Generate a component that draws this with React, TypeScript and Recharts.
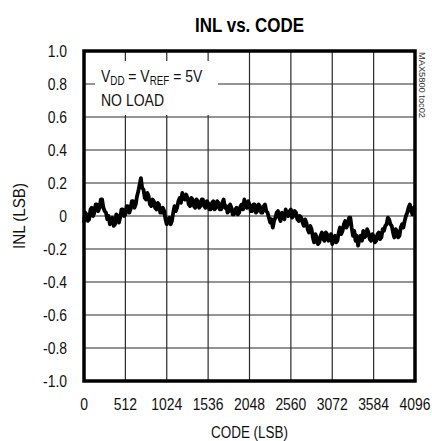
import React from "react";
import { LineChart, Line, XAxis, YAxis, CartesianGrid, ReferenceArea } from "recharts";

const codeStep = 16;
const inlValues: number[] = [
  -0.04, 0.02, 0.01, -0.03, -0.02, 0.04, 0.05, 0.0, 0.02, 0.07,
  0.07, 0.03, 0.05, 0.1, 0.1, 0.05, 0.03, 0.02, -0.02, 0.0,
  -0.05, -0.02, -0.01, -0.06, -0.05, 0.01, 0.0, -0.04, -0.01, 0.04,
  0.04, 0.0, 0.01, 0.06, 0.06, 0.02, 0.04, 0.09, 0.09, 0.05,
  0.07, 0.12, 0.15, 0.19, 0.23, 0.17, 0.16, 0.11, 0.1, 0.14,
  0.12, 0.07, 0.06, 0.1, 0.09, 0.05, 0.04, 0.08, 0.07, 0.02,
  0.02, 0.05, 0.03, -0.02, -0.05, -0.02, -0.01, -0.05, -0.03, 0.02,
  0.06, 0.03, 0.05, 0.09, 0.11, 0.08, 0.14, 0.11, 0.1, 0.13,
  0.11, 0.07, 0.06, 0.11, 0.1, 0.06, 0.05, 0.1, 0.09, 0.05,
  0.06, 0.1, 0.1, 0.06, 0.05, 0.09, 0.08, 0.04, 0.04, 0.08,
  0.09, 0.04, 0.05, 0.09, 0.08, 0.04, 0.04, 0.08, 0.1, 0.05,
  0.06, 0.02, 0.03, 0.07, 0.05, 0.01, 0.01, 0.04, 0.05, 0.01,
  0.02, 0.06, 0.07, 0.04, 0.1, 0.06, 0.05, 0.09, 0.07, 0.03,
  0.03, 0.07, 0.07, 0.02, 0.03, 0.07, 0.06, 0.02, 0.02, 0.06,
  0.07, 0.03, 0.02, -0.01, -0.04, -0.02, -0.07, -0.03, -0.01, 0.02,
  0.03, -0.01, -0.03, 0.02, 0.01, -0.02, 0.04, 0.01, 0.0, 0.03,
  0.04, -0.01, 0.0, 0.03, 0.02, -0.02, -0.03, 0.0, -0.01, -0.04,
  -0.06, -0.02, -0.04, -0.08, -0.1, -0.06, -0.08, -0.13, -0.16, -0.11,
  -0.13, -0.17, -0.16, -0.12, -0.1, -0.14, -0.15, -0.1, -0.11, -0.15,
  -0.14, -0.11, -0.17, -0.13, -0.12, -0.16, -0.15, -0.1, -0.07, -0.11,
  -0.09, -0.05, -0.03, -0.07, -0.05, -0.01, -0.01, -0.07, -0.12, -0.09,
  -0.15, -0.12, -0.18, -0.14, -0.12, -0.15, -0.09, -0.13, -0.12, -0.08,
  -0.1, -0.14, -0.15, -0.11, -0.12, -0.16, -0.15, -0.11, -0.1, -0.14,
  -0.13, -0.08, -0.09, -0.06, -0.05, -0.01, -0.02, -0.05, -0.06, -0.1,
  -0.13, -0.08, -0.09, -0.13, -0.12, -0.07, -0.05, -0.07, -0.03, 0.0,
  0.02, 0.05, 0.07, 0.03, 0.01, 0.05, 0.04,
];

const xTicks = [0, 512, 1024, 1536, 2048, 2560, 3072, 3584, 4096];
const yTicks = [-1, -0.8, -0.6, -0.4, -0.2, 0, 0.2, 0.4, 0.6, 0.8, 1];

const title = "INL vs. CODE";
const xLabel = "CODE (LSB)";
const yLabel = "INL (LSB)";
const sideNote = "MAX5800 toc02";
const noteLine2 = "NO LOAD";

const data = inlValues.map((v, i) => ({ code: i * codeStep, inl: v }));

const FONT = "'Liberation Sans', Arial, sans-serif";
const SX = 0.82;

const fmtY = (v: number) => (Math.abs(v) < 1e-9 ? "0" : v.toFixed(1));

const XTick = (props: any) => {
  const { x, y, payload } = props;
  return (
    <text
      transform={`translate(${x},${y}) scale(${SX},1)`}
      textAnchor="middle"
      dy="0.71em"
      fontFamily={FONT}
      fontSize={17}
      fill="#111"
    >
      {String(payload.value)}
    </text>
  );
};

const YTick = (props: any) => {
  const { x, y, payload } = props;
  return (
    <text
      transform={`translate(${x},${y}) scale(${SX},1)`}
      textAnchor="end"
      dy="0.355em"
      fontFamily={FONT}
      fontSize={17}
      fill="#111"
    >
      {fmtY(payload.value)}
    </text>
  );
};

export default function App() {
  return (
    <div style={{ position: "absolute", left: 0, top: 0, width: 432, height: 441, background: "#fff" }}>
      <LineChart
        width={432}
        height={441}
        data={data}
        margin={{ top: 51, right: 17, bottom: 30, left: 24 }}
      >
        <CartesianGrid stroke="#2a2a2a" strokeWidth={1.2} />
        <XAxis
          dataKey="code"
          type="number"
          domain={[0, 4096]}
          ticks={xTicks}
          interval={0}
          axisLine={false}
          tickLine={false}
          tickMargin={11}
          height={30}
          tick={<XTick />}
        />
        <YAxis
          type="number"
          domain={[-1, 1]}
          ticks={yTicks}
          interval={0}
          axisLine={false}
          tickLine={false}
          tickMargin={11}
          width={60}
          tick={<YTick />}
        />
        <Line
          type="linear"
          dataKey="inl"
          stroke="#000"
          strokeWidth={3.8}
          strokeLinejoin="round"
          dot={false}
          isAnimationActive={false}
        />
        <ReferenceArea x1={0} x2={4096} y1={-1} y2={1} fill="none" stroke="#000" strokeWidth={3.5} ifOverflow="visible" />
      </LineChart>
      <svg
        width={432}
        height={441}
        style={{ position: "absolute", left: 0, top: 0, pointerEvents: "none" }}
      >
        <text
          x={249.5}
          y={32}
          textAnchor="middle"
          fontFamily={FONT}
          fontWeight="bold"
          fontSize={21}
          fill="#000"
          textLength={109}
          lengthAdjust="spacingAndGlyphs"
        >
          {title}
        </text>
        <text
          x={249.5}
          y={438}
          textAnchor="middle"
          fontFamily={FONT}
          fontSize={16}
          fill="#111"
          textLength={77}
          lengthAdjust="spacingAndGlyphs"
        >
          {xLabel}
        </text>
        <text
          x={0}
          y={0}
          transform="translate(25,216) rotate(-90)"
          textAnchor="middle"
          fontFamily={FONT}
          fontSize={16}
          fill="#111"
          textLength={66}
          lengthAdjust="spacingAndGlyphs"
        >
          {yLabel}
        </text>
        <text
          x={0}
          y={0}
          transform="translate(419,52) rotate(90)"
          textAnchor="start"
          fontFamily={FONT}
          fontSize={9.5}
          fill="#333"
          textLength={66}
          lengthAdjust="spacingAndGlyphs"
        >
          {sideNote}
        </text>
        <rect x={95} y={61} width={123} height={54} fill="#fff" />
        <g transform={`translate(101,82) scale(${SX},1)`}>
          <text x={0} y={0} fontFamily={FONT} fontSize={17} fill="#111">
            V<tspan fontSize={12} dy={3}>DD</tspan>
            <tspan dy={-3}> = V</tspan>
            <tspan fontSize={12} dy={3}>REF</tspan>
            <tspan dy={-3}> = 5V</tspan>
          </text>
        </g>
        <text
          x={101}
          y={106}
          fontFamily={FONT}
          fontSize={17}
          fill="#111"
          textLength={63}
          lengthAdjust="spacingAndGlyphs"
        >
          {noteLine2}
        </text>
      </svg>
    </div>
  );
}
